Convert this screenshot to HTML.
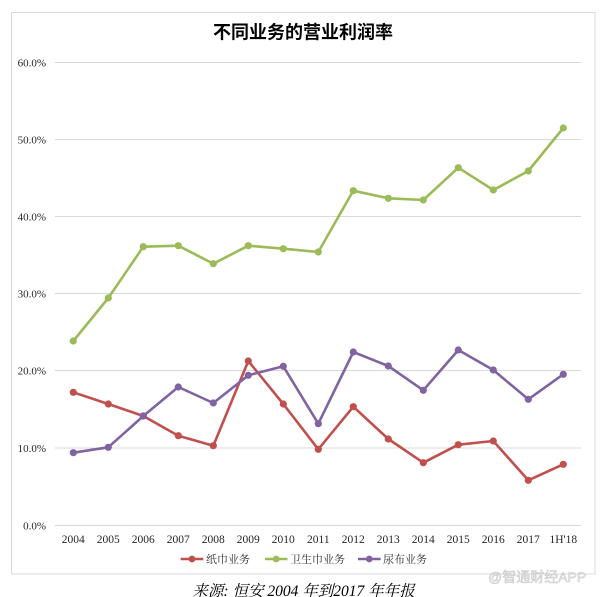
<!DOCTYPE html>
<html>
<head>
<meta charset="utf-8">
<style>
html,body{margin:0;padding:0;background:#fff;}
body{width:605px;height:597px;overflow:hidden;}
svg{display:block;}
.yl{font-family:"Liberation Serif","Noto Serif CJK SC",serif;font-size:11px;fill:#262626;}
.xl{font-family:"Liberation Serif","Noto Serif CJK SC",serif;font-size:11.5px;fill:#262626;}
.lg{font-family:"Liberation Serif","Noto Serif CJK SC",serif;font-size:11px;fill:#333;}
</style>
</head>
<body>
<svg width="605" height="597" viewBox="0 0 605 597" xmlns="http://www.w3.org/2000/svg">
  <rect x="11.5" y="12.5" width="583.5" height="561.5" fill="#fff" stroke="#d9d9d9" stroke-width="1"/>
  <text x="303" y="38.5" text-anchor="middle" font-family="'Liberation Sans','Noto Sans CJK SC',sans-serif" font-size="18" font-weight="bold" fill="#000">不同业务的营业利润率</text>

  <g stroke="#d9d9d9" stroke-width="1">
    <line x1="55" y1="62.5" x2="581" y2="62.5"/>
    <line x1="55" y1="139.5" x2="581" y2="139.5"/>
    <line x1="55" y1="216.5" x2="581" y2="216.5"/>
    <line x1="55" y1="293.5" x2="581" y2="293.5"/>
    <line x1="55" y1="370.5" x2="581" y2="370.5"/>
    <line x1="55" y1="448" x2="581" y2="448"/>
    <line x1="55" y1="525.5" x2="581" y2="525.5"/>
  </g>

  <g class="yl" text-anchor="end">
    <text x="46" y="66.5">60.0%</text>
    <text x="46" y="143.5">50.0%</text>
    <text x="46" y="220.5">40.0%</text>
    <text x="46" y="297.5">30.0%</text>
    <text x="46" y="374.5">20.0%</text>
    <text x="46" y="452">10.0%</text>
    <text x="46" y="529.5">0.0%</text>
  </g>

  <g class="xl" text-anchor="middle">
    <text x="73.3" y="543">2004</text>
    <text x="108.3" y="543">2005</text>
    <text x="143.3" y="543">2006</text>
    <text x="178.3" y="543">2007</text>
    <text x="213.3" y="543">2008</text>
    <text x="248.3" y="543">2009</text>
    <text x="283.3" y="543">2010</text>
    <text x="318.3" y="543">2011</text>
    <text x="353.3" y="543">2012</text>
    <text x="388.3" y="543">2013</text>
    <text x="423.3" y="543">2014</text>
    <text x="458.3" y="543">2015</text>
    <text x="493.3" y="543">2016</text>
    <text x="528.3" y="543">2017</text>
    <text x="563.3" y="543">1H'18</text>
  </g>

  <!-- Red series -->
  <g stroke="#c0504d" fill="#c0504d">
    <polyline fill="none" stroke-width="2.6" stroke-linejoin="round" points="73.3,392.3 108.3,404 143.3,416 178.3,435.7 213.3,445.7 248.3,361 283.3,404 318.3,449.3 353.3,406.7 388.3,439 423.3,462.7 458.3,444.7 493.3,441 528.3,480.3 563.3,464.3"/>
    <g stroke="none">
      <circle cx="73.3" cy="392.3" r="3.6"/><circle cx="108.3" cy="404" r="3.6"/><circle cx="143.3" cy="416" r="3.6"/><circle cx="178.3" cy="435.7" r="3.6"/><circle cx="213.3" cy="445.7" r="3.6"/><circle cx="248.3" cy="361" r="3.6"/><circle cx="283.3" cy="404" r="3.6"/><circle cx="318.3" cy="449.3" r="3.6"/><circle cx="353.3" cy="406.7" r="3.6"/><circle cx="388.3" cy="439" r="3.6"/><circle cx="423.3" cy="462.7" r="3.6"/><circle cx="458.3" cy="444.7" r="3.6"/><circle cx="493.3" cy="441" r="3.6"/><circle cx="528.3" cy="480.3" r="3.6"/><circle cx="563.3" cy="464.3" r="3.6"/>
    </g>
  </g>

  <!-- Green series -->
  <g stroke="#9bbb59" fill="#9bbb59">
    <polyline fill="none" stroke-width="2.6" stroke-linejoin="round" points="73.3,341 108.3,298 143.3,246.7 178.3,245.7 213.3,263.7 248.3,245.7 283.3,248.7 318.3,252 353.3,190.7 388.3,198.3 423.3,200 458.3,167.7 493.3,190 528.3,171 563.3,128"/>
    <g stroke="none">
      <circle cx="73.3" cy="341" r="3.6"/><circle cx="108.3" cy="298" r="3.6"/><circle cx="143.3" cy="246.7" r="3.6"/><circle cx="178.3" cy="245.7" r="3.6"/><circle cx="213.3" cy="263.7" r="3.6"/><circle cx="248.3" cy="245.7" r="3.6"/><circle cx="283.3" cy="248.7" r="3.6"/><circle cx="318.3" cy="252" r="3.6"/><circle cx="353.3" cy="190.7" r="3.6"/><circle cx="388.3" cy="198.3" r="3.6"/><circle cx="423.3" cy="200" r="3.6"/><circle cx="458.3" cy="167.7" r="3.6"/><circle cx="493.3" cy="190" r="3.6"/><circle cx="528.3" cy="171" r="3.6"/><circle cx="563.3" cy="128" r="3.6"/>
    </g>
  </g>

  <!-- Purple series -->
  <g stroke="#8064a2" fill="#8064a2">
    <polyline fill="none" stroke-width="2.6" stroke-linejoin="round" points="73.3,452.7 108.3,447.3 143.3,416 178.3,387 213.3,403 248.3,375.3 283.3,366.3 318.3,423.7 353.3,352 388.3,366 423.3,390.3 458.3,350 493.3,370 528.3,399.3 563.3,374.3"/>
    <g stroke="none">
      <circle cx="73.3" cy="452.7" r="3.6"/><circle cx="108.3" cy="447.3" r="3.6"/><circle cx="143.3" cy="416" r="3.6"/><circle cx="178.3" cy="387" r="3.6"/><circle cx="213.3" cy="403" r="3.6"/><circle cx="248.3" cy="375.3" r="3.6"/><circle cx="283.3" cy="366.3" r="3.6"/><circle cx="318.3" cy="423.7" r="3.6"/><circle cx="353.3" cy="352" r="3.6"/><circle cx="388.3" cy="366" r="3.6"/><circle cx="423.3" cy="390.3" r="3.6"/><circle cx="458.3" cy="350" r="3.6"/><circle cx="493.3" cy="370" r="3.6"/><circle cx="528.3" cy="399.3" r="3.6"/><circle cx="563.3" cy="374.3" r="3.6"/>
    </g>
  </g>

  <!-- Legend -->
  <g>
    <line x1="180.7" y1="559" x2="203.3" y2="559" stroke="#c0504d" stroke-width="2.6"/>
    <circle cx="192" cy="559" r="3.4" fill="#c0504d"/>
    <text class="lg" x="206" y="563">纸巾业务</text>
    <line x1="265" y1="559" x2="287.5" y2="559" stroke="#9bbb59" stroke-width="2.6"/>
    <circle cx="276.2" cy="559" r="3.4" fill="#9bbb59"/>
    <text class="lg" x="290" y="563">卫生巾业务</text>
    <line x1="358" y1="559" x2="380.7" y2="559" stroke="#8064a2" stroke-width="2.6"/>
    <circle cx="369.3" cy="559" r="3.4" fill="#8064a2"/>
    <text class="lg" x="383" y="563">尿布业务</text>
  </g>

  <!-- Caption -->
  <text x="303.5" y="596" text-anchor="middle" font-family="'Liberation Serif','Noto Serif CJK SC',serif" font-size="15.5" font-style="italic" fill="#000">来源: 恒安 2004 年到2017 年年报</text>

  <!-- Watermark -->
  <text x="488" y="582" font-family="'Liberation Sans','Noto Sans CJK SC',sans-serif" font-size="14" fill="#e6e6e6" stroke="#c8c8c8" stroke-width="0.5">@智通财经APP</text>
</svg>
</body>
</html>
